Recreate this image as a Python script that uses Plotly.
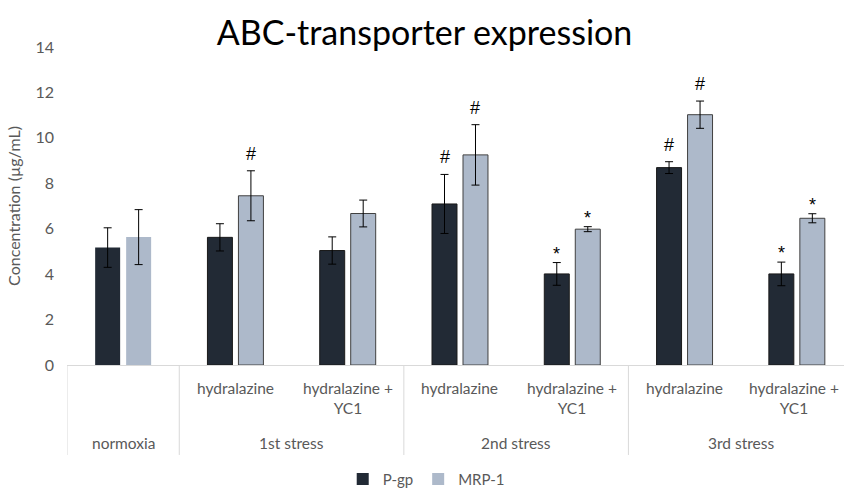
import plotly.graph_objects as go

# ---- data ----
groups = ["normoxia", "1st stress", "2nd stress", "3rd stress"]
group_spans = [1, 2, 2, 2]
subcats = ["", "hydralazine", "hydralazine +<br>YC1", "hydralazine", "hydralazine +<br>YC1",
           "hydralazine", "hydralazine +<br>YC1"]
pgp_vals = [5.17, 5.62, 5.04, 7.09, 4.01, 8.69, 4.01]
pgp_err = [0.87, 0.60, 0.60, 1.30, 0.50, 0.26, 0.52]
mrp_vals = [5.63, 7.45, 6.67, 9.25, 5.98, 11.02, 6.46]
mrp_err = [1.21, 1.10, 0.59, 1.33, 0.11, 0.60, 0.20]
pgp_marks = ["", "", "", "#", "*", "#", "*"]
mrp_marks = ["", "#", "", "#", "*", "#", "*"]
y_ticks = [0, 2, 4, 6, 8, 10, 12, 14]

# ---- styling ----
FONT = "Lato"
MARK_FONT = "Liberation Sans"
GREY_TXT = "#595959"
LINE_GREY = "#d9d9d9"
PGP_COL = "#222a35"
MRP_COL = "#adb9ca"
x = list(range(len(subcats)))
SLOT = 0.276  # centre spacing of the two bars within a category

fig = go.Figure()
fig.add_trace(go.Bar(
    x=x, y=pgp_vals, name="P-gp",
    marker=dict(color=PGP_COL, line=dict(color="#1a1a1a", width=[0] + [1] * 6)),
    error_y=dict(type="data", array=pgp_err, color="black", thickness=1, width=4),
))
fig.add_trace(go.Bar(
    x=x, y=mrp_vals, name="MRP-1",
    marker=dict(color=MRP_COL, line=dict(color="#404040", width=[0] + [1] * 6)),
    error_y=dict(type="data", array=mrp_err, color="black", thickness=1, width=4),
))

annotations = []
# significance marks
for vals, errs, marks, off in [(pgp_vals, pgp_err, pgp_marks, -SLOT / 2),
                               (mrp_vals, mrp_err, mrp_marks, SLOT / 2)]:
    for i, m in enumerate(marks):
        if not m:
            continue
        annotations.append(dict(
            x=i + off, y=vals[i] + errs[i], xref="x", yref="y",
            text=m, showarrow=False, yanchor="middle",
            yshift=17 if m == "#" else 9,
            font=dict(family=MARK_FONT, size=18, color="black"),
        ))
# sub-category labels
last = len(subcats) - 1
for i, s in enumerate(subcats):
    if s:
        annotations.append(dict(
            x=i, y=0, xref="x", yref="paper", text=s, showarrow=False,
            yanchor="top", yshift=-12, xshift=-3 if i == last else 0,
            font=dict(family=FONT, size=15.5, color=GREY_TXT),
        ))
# group labels and dividers
shapes = []
start = 0
for g, span in zip(groups, group_spans):
    centre = start + (span - 1) / 2
    annotations.append(dict(
        x=centre, y=0, xref="x", yref="paper", text=g, showarrow=False,
        yanchor="middle", yshift=-78,
        font=dict(family=FONT, size=15.5, color=GREY_TXT),
    ))
    shapes.append(dict(type="line", xref="x", yref="paper",
                       x0=start - 0.5, x1=start - 0.5, y0=0, y1=-0.283,
                       line=dict(color=LINE_GREY, width=1)))
    start += span
shapes.append(dict(type="line", xref="x", yref="paper",
                   x0=start - 0.5, x1=start - 0.5, y0=0, y1=-0.283,
                   line=dict(color=LINE_GREY, width=1)))

fig.update_layout(
    width=844, height=489,
    margin=dict(l=67, r=0, t=47, b=124),
    paper_bgcolor="white", plot_bgcolor="white",
    barmode="group", bargap=0.448, bargroupgap=0.194,
    title=dict(text="ABC-transporter expression", x=0.503, xref="container",
               y=0.932, yref="container", xanchor="center", yanchor="middle",
               font=dict(family=FONT, size=34, color="black")),
    font=dict(family=FONT, color=GREY_TXT),
    showlegend=True,
    legend=dict(orientation="h", xref="container", yref="container",
                x=0.505, y=0.02, xanchor="center", yanchor="middle",
                font=dict(family=FONT, size=15, color=GREY_TXT),
                itemwidth=30, traceorder="normal"),
    annotations=annotations,
    shapes=shapes,
)
fig.update_xaxes(range=[-0.5, 6.42], showticklabels=False, showgrid=False,
                 zeroline=False, showline=True, linecolor=LINE_GREY, linewidth=1,
                 ticks="", automargin=False)
fig.update_yaxes(range=[0, 14], tickvals=y_ticks, showgrid=False, zeroline=False,
                 showline=False, ticks="", ticklabelstandoff=12, automargin=False,
                 tickfont=dict(family=FONT, size=16, color=GREY_TXT),
                 title=dict(text="Concentration (µg/mL)", standoff=10,
                            font=dict(family=FONT, size=16, color=GREY_TXT)))

fig.write_html("out.html", config={"displayModeBar": False},
               post_script="document.body.style.margin='0';document.body.style.overflow='hidden';")
